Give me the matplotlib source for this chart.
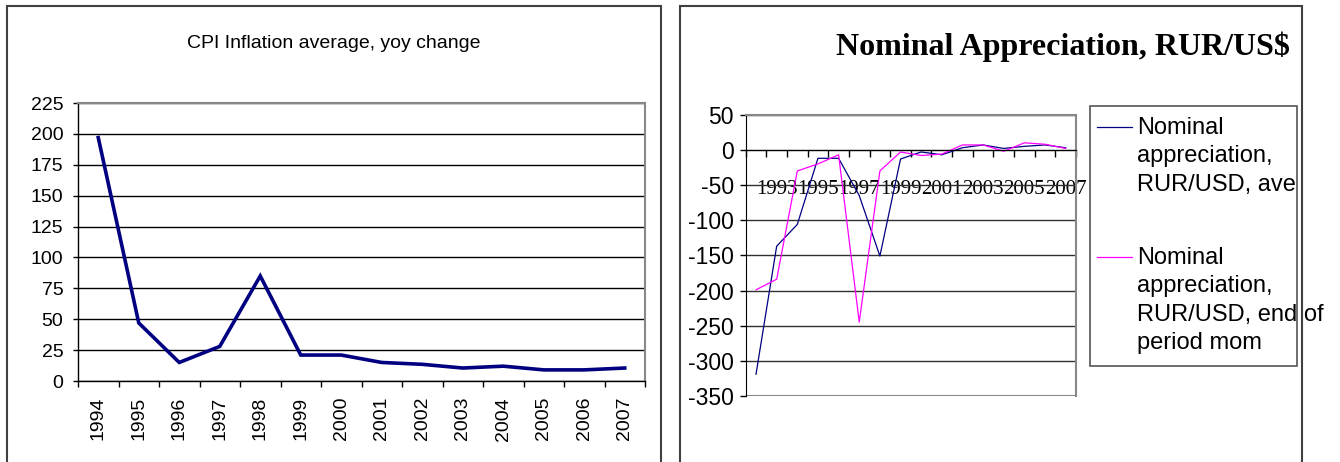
import matplotlib
matplotlib.use('Agg')
import matplotlib.pyplot as plt
from matplotlib.patches import Rectangle
from matplotlib.lines import Line2D

plt.rcParams['axes.unicode_minus'] = False
plt.rcParams['font.family'] = ['Liberation Sans', 'DejaVu Sans']

# data
cpi_years = [str(y) for y in range(1994, 2008)]
cpi_values = [197, 47, 15, 28, 85, 21, 21, 15, 13.5, 10.5, 12, 9, 9, 10.5]

fx_years = [str(y) for y in range(1992, 2008)]
appr_ave = [-319, -137, -106, -12, -12, -65, -151, -13, -3, -7, 3, 7, 2, 5, 7, 3]
appr_eop = [-199, -184, -30, -20, -7, -245, -30, -3, -8, -6, 7, 7, -2, 10, 8, 2]

legend_labels = ['Nominal\nappreciation,\nRUR/USD, ave',
                 'Nominal\nappreciation,\nRUR/USD, end of\nperiod mom']

W, H = 1340, 462


def fx(x):
    return x / W


def fy(y):
    return 1 - y / H


def box(x0, y0, x1, y1):
    # figure-fraction rect from pixel corners (top-left, bottom-right)
    return [fx(x0), fy(y1), fx(x1) - fx(x0), fy(y0) - fy(y1)]


fig = plt.figure(figsize=(13.4, 4.62), dpi=100)

# outer frames of both charts
for x0, x1 in [(7, 661), (680, 1302)]:
    fig.add_artist(Rectangle((fx(x0), fy(480)), fx(x1) - fx(x0), fy(6) - fy(480),
                             transform=fig.transFigure, fill=False,
                             edgecolor='#404040', lw=1.5))

# ---------- left chart ----------
ax1 = fig.add_axes(box(78, 103, 645, 381))
n1 = len(cpi_years)
ax1.plot(range(n1), cpi_values, color='#000080', lw=2.6, solid_joinstyle='miter')
ax1.set_xlim(-0.5, n1 - 0.5)
ax1.set_ylim(0, 225)
ax1.set_yticks(range(0, 226, 25))
ax1.set_xticks([i - 0.5 for i in range(n1 + 1)])
ax1.set_xticklabels([])
ax1.set_xticks(range(n1), minor=True)
ax1.set_xticklabels(cpi_years, minor=True)
ax1.tick_params(axis='x', which='major', length=4.3, width=1, direction='out')
ax1.tick_params(axis='x', which='minor', length=0, pad=11.5, labelsize=14,
                labelrotation=90)
ax1.tick_params(axis='y', length=3.6, width=1, pad=7, labelsize=14)
ax1.grid(axis='y', color='black', lw=1)
ax1.set_axisbelow(True)
for s in ['top', 'right']:
    ax1.spines[s].set_color('#888888')
    ax1.spines[s].set_linewidth(1.5)
for s in ['left', 'bottom']:
    ax1.spines[s].set_linewidth(1)

fig.text(fx(334), fy(48), 'CPI Inflation average, yoy change', ha='center',
         va='baseline', fontsize=14)

# ---------- right chart ----------
ax2 = fig.add_axes(box(745.7, 114.7, 1076, 396))
ax2.spines['bottom'].set_position(('data', 0))
n2 = len(fx_years)
ax2.plot(range(n2), appr_ave, color='#000080', lw=0.9)
ax2.plot(range(n2), appr_eop, color='#FF00FF', lw=0.9)
ax2.set_xlim(-0.5, n2 - 0.5)
ax2.set_ylim(-350, 50)
ax2.set_yticks(range(-350, 51, 50))
ax2.tick_params(axis='y', length=4, width=1, pad=4.5, labelsize=16.5)
ax2.set_xticks([i - 0.5 for i in range(n2 + 1)])
ax2.set_xticklabels([])
ax2.set_xticks(range(1, n2, 2), minor=True)
ax2.set_xticklabels(fx_years[1::2], minor=True)
ax2.tick_params(axis='x', which='major', length=5, width=1, direction='out')
ax2.tick_params(axis='x', which='minor', length=0, pad=21.5, labelsize=15,
                labelfontfamily='Liberation Serif')
ax2.grid(axis='y', color='#303030', lw=1)
ax2.set_axisbelow(True)
for s in ['top', 'right']:
    ax2.spines[s].set_color('#888888')
    ax2.spines[s].set_linewidth(1.5)
ax2.axhline(-350, color='#888888', lw=1.5)

fig.text(fx(1290), fy(55), 'Nominal Appreciation, RUR/US$', ha='right',
         va='baseline', fontsize=23, fontweight='bold',
         family=['Liberation Serif', 'DejaVu Serif'])

# legend drawn by hand so the text can spill over the box like the original
fig.add_artist(Rectangle((fx(1090), fy(366)), fx(1297) - fx(1090), fy(106) - fy(366),
                         transform=fig.transFigure, fill=False,
                         edgecolor='#555555', lw=1.2))
for label, color, ytop, yline in zip(legend_labels, ['#000080', '#FF00FF'],
                                     [117, 247], [127, 257]):
    fig.add_artist(Line2D([fx(1097), fx(1132)], [fy(yline), fy(yline)],
                          transform=fig.transFigure, color=color, lw=0.9))
    fig.text(fx(1137), fy(ytop), label, ha='left', va='top', fontsize=17,
             linespacing=1.38)

fig.savefig('out.png', dpi=100)
